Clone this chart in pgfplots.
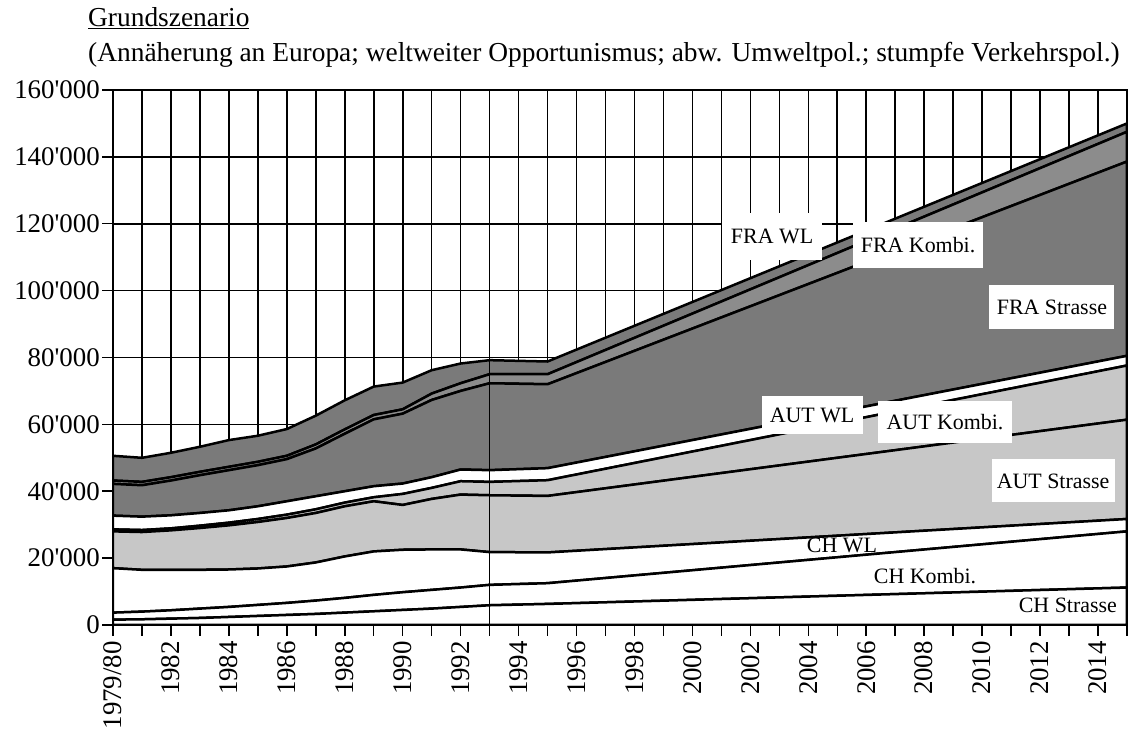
\documentclass[border=0pt]{standalone}
\usepackage{fontspec}
\setmainfont{Liberation Serif}
\newfontfamily\aposfont{Liberation Serif}
\newcommand{\ap}{{\aposfont'}}
\usepackage{pgfplots}
\pgfplotsset{compat=1.18}
\usepackage{pgfplotstable}

% layers given as increments (stack plots=y)
\pgfplotstableread{
year CHS CHK CHW AUS AUK AUW FRS FRK FRW
1980 1600 2100 13300 11000 600 4100 9500 1000 7400
1981 1700 2300 12500 11300 600 4000 9400 1000 7200
1982 1900 2500 12100 11800 600 3900 10400 1000 7300
1983 2100 2800 11600 12500 700 3800 11300 1000 7500
1984 2400 3000 11200 13200 800 3700 12000 1000 8000
1985 2700 3300 10900 13900 900 3800 12300 1000 7800
1986 3000 3600 10900 14500 1000 4000 12600 1000 8000
1987 3300 4000 11400 14800 1100 3900 14300 1200 8600
1988 3700 4400 12400 15000 1100 3400 17200 1300 8700
1989 4100 4900 13000 15000 1200 3300 20000 1300 8500
1990 4500 5300 12700 13400 3300 3100 20900 1300 8000
1991 4900 5600 12100 15100 3300 3200 23100 1900 7000
1992 5400 5800 11400 16400 4000 3500 23500 2300 5900
1993 5900 6100 9800 17000 4000 3500 26000 2700 4200
1995 6300 6200 9200 16900 4700 3600 25100 3000 3800
2015 11200 16800 3700 29700 16200 2900 58100 8900 2500
}\data

\tikzset{lbl/.style={font=\fontsize{22}{22}\selectfont, inner sep=0pt}}

\begin{document}
\begin{tikzpicture}[x=1bp,y=1bp]
\begin{axis}[
  at={(0,0)}, anchor=south west,
  scale only axis, width=1014bp, height=535bp,
  xmin=1980, xmax=2015, ymin=0, ymax=160000,
  scaled y ticks=false,
  xtick={1980,1982,...,2014},
  xticklabels={1979/80,1982,1984,1986,1988,1990,1992,1994,1996,1998,2000,2002,2004,2006,2008,2010,2012,2014},
  minor xtick={1981,1983,...,2015},
  ytick={0,20000,...,160000},
  yticklabels={0,20\ap000,40\ap000,60\ap000,80\ap000,100\ap000,120\ap000,140\ap000,160\ap000},
  /pgf/number format/assume math mode=true,
  xtick pos=bottom, ytick pos=left,
  tick align=outside,
  major tick length=11bp, minor tick length=11bp,
  tick style={black, line width=1.5bp},
  xmajorgrids, xminorgrids, ymajorgrids,
  major grid style={black, line width=1.6bp},
  minor grid style={black, line width=1.6bp},
  axis line style={black, line width=1.8bp},
  x tick label style={rotate=90, anchor=east, inner sep=5bp, font=\fontsize{27}{27}\selectfont},
  y tick label style={anchor=east, inner sep=2bp, font=\fontsize{27}{27}\selectfont},
  stack plots=y,
]
\addplot[draw=black, line width=2.5bp, fill=white] table[x=year,y=CHS]{\data} \closedcycle;
\addplot[draw=black, line width=2.5bp, fill=white] table[x=year,y=CHK]{\data} \closedcycle;
\addplot[draw=black, line width=2.5bp, fill=white] table[x=year,y=CHW]{\data} \closedcycle;
\addplot[draw=black, line width=2.5bp, fill=black!22] table[x=year,y=AUS]{\data} \closedcycle;
\addplot[draw=black, line width=2.5bp, fill=black!22] table[x=year,y=AUK]{\data} \closedcycle;
\addplot[draw=black, line width=2.5bp, fill=white] table[x=year,y=AUW]{\data} \closedcycle;
\addplot[draw=black, line width=2.5bp, fill=black!52] table[x=year,y=FRS]{\data} \closedcycle;
\addplot[draw=black, line width=2.5bp, fill=black!45] table[x=year,y=FRK]{\data} \closedcycle;
\addplot[draw=black, line width=2.5bp, fill=black!52] table[x=year,y=FRW]{\data} \closedcycle;

\coordinate (v0) at (axis cs:1993,0);
\coordinate (v1) at (axis cs:1993,160000);
\coordinate (sw) at (rel axis cs:0,0);
\coordinate (ne) at (rel axis cs:1,1);
\coordinate (l1) at (axis cs:2002.75,116200);
\coordinate (l2) at (axis cs:2007.79,113650);
\coordinate (l3) at (axis cs:2012.41,95100);
\coordinate (l4) at (axis cs:2004.13,62800);
\coordinate (l5) at (axis cs:2008.72,60700);
\coordinate (l6) at (axis cs:2012.45,43100);
\coordinate (l7) at (axis cs:2005.16,23900);
\coordinate (l8) at (axis cs:2008.03,14650);
\coordinate (l9) at (axis cs:2012.96,6000);
\end{axis}

\draw[black, line width=1.5bp] (v0) -- (v1);
\draw[black, line width=1.8bp] (sw) rectangle (ne);

\node[lbl, fill=white, minimum width=100bp, minimum height=47bp] at (l1) {FRA WL};
\node[lbl, fill=white, minimum width=130bp, minimum height=46bp] at (l2) {FRA Kombi.};
\node[lbl, fill=white, minimum width=125bp, minimum height=43bp] at (l3) {FRA Strasse};
\node[lbl, fill=white, minimum width=101bp, minimum height=38bp] at (l4) {AUT WL};
\node[lbl, fill=white, minimum width=134bp, minimum height=42bp] at (l5) {AUT Kombi.};
\node[lbl, fill=white, minimum width=123bp, minimum height=43bp] at (l6) {AUT Strasse};
\node[lbl] at (l7) {CH WL};
\node[lbl] at (l8) {CH Kombi.};
\node[lbl] at (l9) {CH Strasse};

\node[anchor=base west, inner sep=0pt, font=\fontsize{27.5}{27.5}\selectfont] at (-25,598) {\underline{Grundszenario}};
\node[anchor=base west, inner sep=0pt, font=\fontsize{27.5}{27.5}\selectfont] at (-25,563) {(Annäherung an Europa; weltweiter Opportunismus; abw. Umweltpol.; stumpfe Verkehrspol.)};

\pgfresetboundingbox
\path (-113,-106) rectangle (1019,625);
\end{tikzpicture}
\end{document}
